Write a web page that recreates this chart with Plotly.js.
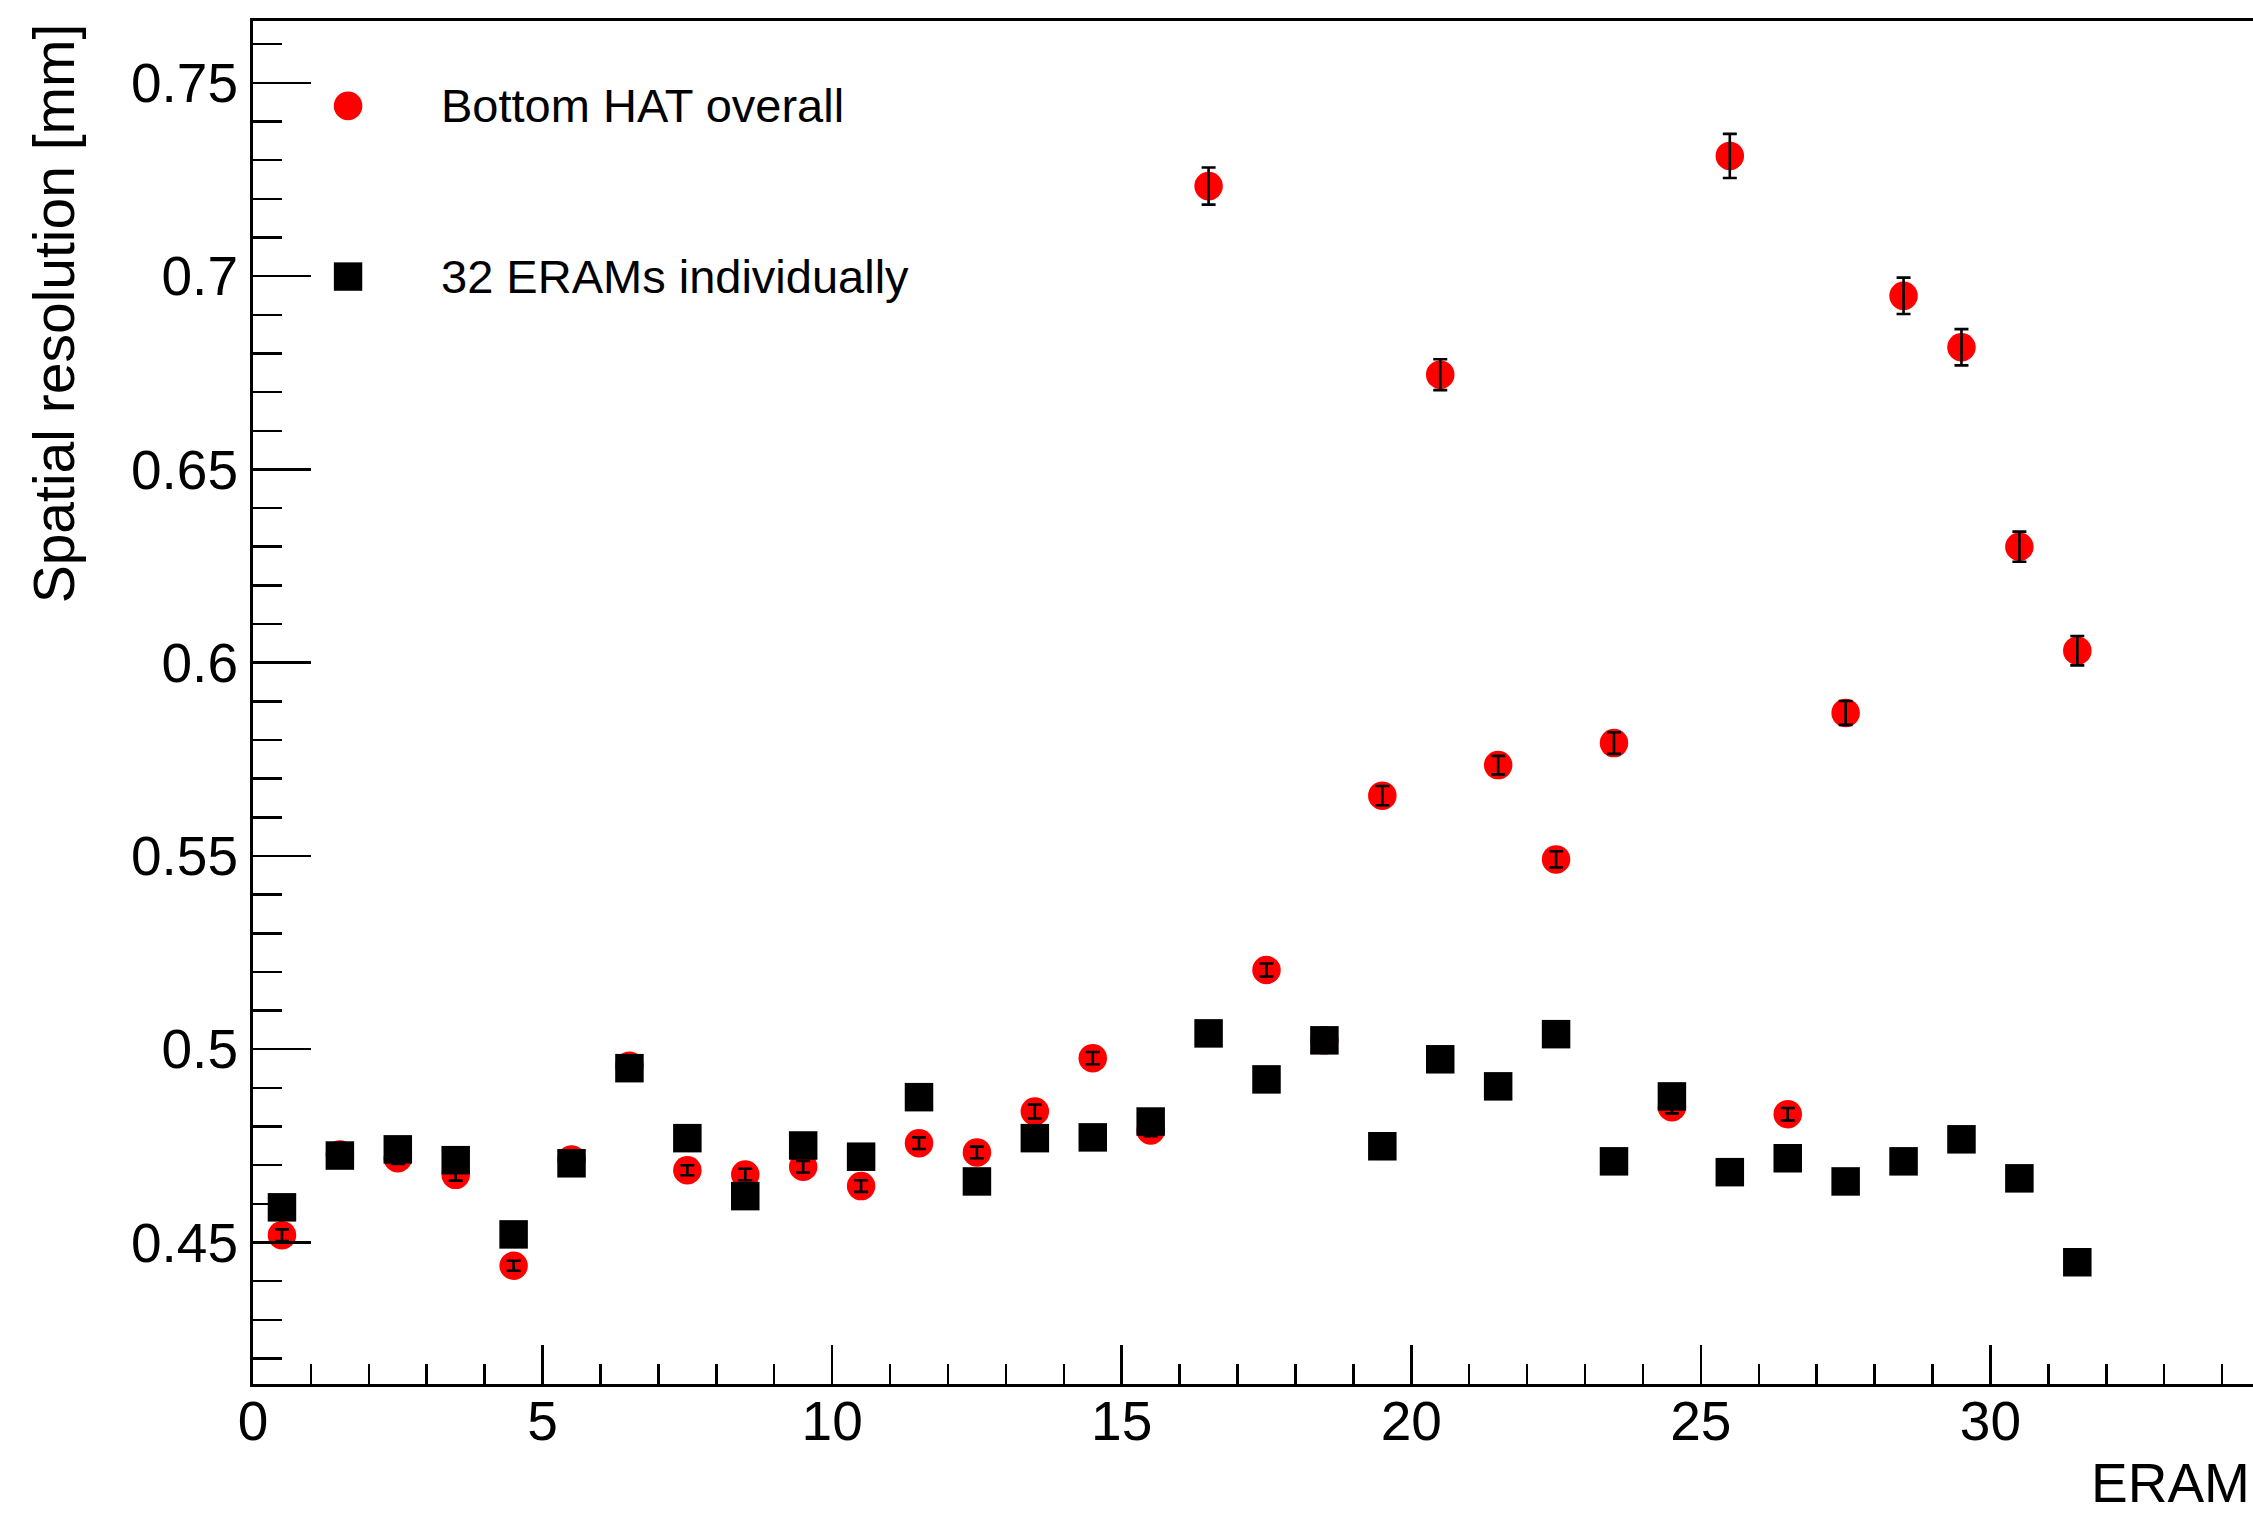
<!DOCTYPE html>
<html>
<head>
<meta charset="utf-8">
<script src="https://cdn.plot.ly/plotly-3.0.1.min.js"></script>
<style>
  html, body { margin: 0; padding: 0; background: #ffffff; overflow: hidden; }
  #wrap { width: 2253px; height: 1514px; overflow: hidden; position: relative; }
  #chart { width: 2300px; height: 1514px; }
</style>
</head>
<body>
<div id="wrap"><div id="chart"></div></div>
<script>
// ERAM index (bin centres)
const eramIndex = [0.5, 1.5, 2.5, 3.5, 4.5, 5.5, 6.5, 7.5, 8.5, 9.5,
                   10.5, 11.5, 12.5, 13.5, 14.5, 15.5, 16.5, 17.5, 18.5, 19.5,
                   20.5, 21.5, 22.5, 23.5, 24.5, 25.5, 26.5, 27.5, 28.5, 29.5,
                   30.5, 31.5];

// Bottom HAT overall (red circles) with errors
const hatOverall = [0.4519, 0.4728, 0.4718, 0.4675, 0.4440, 0.4715, 0.4957, 0.4687, 0.4676, 0.4696,
                    0.4646, 0.4757, 0.4733, 0.4839, 0.4977, 0.4790, 0.7233, 0.5205, 0.5023, 0.5656,
                    0.6745, 0.5735, 0.5491, 0.5792, 0.4850, 0.7311, 0.4832, 0.5870, 0.6949, 0.6816,
                    0.6300, 0.6031];
const hatOverallErr = [0.0015, 0.0015, 0.0015, 0.0015, 0.0013, 0.0015, 0.0015, 0.0013, 0.0015, 0.0015,
                       0.0015, 0.0015, 0.0015, 0.0018, 0.0016, 0.0015, 0.0048, 0.0017, 0.0015, 0.0025,
                       0.0040, 0.0024, 0.0021, 0.0028, 0.0016, 0.0057, 0.0016, 0.0031, 0.0047, 0.0047,
                       0.0039, 0.0038];

// 32 ERAMs individually (black squares)
const eramIndividual = [0.4591, 0.4725, 0.4741, 0.4713, 0.4521, 0.4705, 0.4951, 0.4770, 0.4620, 0.4751,
                        0.4722, 0.4876, 0.4658, 0.4770, 0.4772, 0.4813, 0.5041, 0.4922, 0.5023, 0.4749,
                        0.4974, 0.4904, 0.5039, 0.4710, 0.4878, 0.4682, 0.4718, 0.4658, 0.4710, 0.4767,
                        0.4666, 0.4449];

const legendLabels = ["Bottom HAT overall", "32 ERAMs individually"];
const xTitle = "ERAM";
const yTitle = "Spatial resolution [mm]";

const FONT = "'Liberation Sans', Arial, Helvetica, sans-serif";
const RED = "#ff0000";

const traces = [
  { // red markers
    x: eramIndex, y: hatOverall, type: 'scatter', mode: 'markers',
    marker: { symbol: 'circle', size: 28.5, color: RED, line: { width: 0 } },
    showlegend: false, hoverinfo: 'x+y'
  },
  { // error bars of red series, drawn above markers
    x: eramIndex, y: hatOverall, type: 'scatter', mode: 'markers',
    marker: { size: 1, color: 'rgba(0,0,0,0)' },
    error_y: { type: 'data', array: hatOverallErr, visible: true, color: '#000000', thickness: 2.6, width: 7 },
    showlegend: false, hoverinfo: 'skip'
  },
  { // black squares
    x: eramIndex, y: eramIndividual, type: 'scatter', mode: 'markers',
    marker: { symbol: 'square', size: 28.5, color: '#000000', line: { width: 0 } },
    showlegend: false, hoverinfo: 'x+y'
  }
];

const legX = 0.0469;
const legY1 = 0.9377, legY2 = 0.8125;

const layout = {
  width: 2300, height: 1514,
  margin: { l: 253, r: 20, t: 21, b: 130, pad: 0 },
  paper_bgcolor: '#ffffff', plot_bgcolor: '#ffffff',
  font: { family: FONT, color: '#000000' },
  showlegend: false,
  xaxis: {
    range: [0, 35], showgrid: false, zeroline: false,
    showline: true, linecolor: '#000000', linewidth: 3, mirror: true,
    ticks: 'inside', ticklen: 39, tickwidth: 2.5, tickcolor: '#000000',
    tick0: 0, dtick: 5,
    minor: { dtick: 1, ticks: 'inside', ticklen: 20, tickwidth: 2.5, tickcolor: '#000000', showgrid: false },
    tickfont: { family: FONT, size: 55, color: '#000000' },
    ticklabelstandoff: -13
  },
  yaxis: {
    range: [0.4134, 0.7660], showgrid: false, zeroline: false,
    showline: true, linecolor: '#000000', linewidth: 3, mirror: true,
    ticks: 'inside', ticklen: 58, tickwidth: 2.5, tickcolor: '#000000',
    tick0: 0, dtick: 0.05,
    minor: { dtick: 0.01, ticks: 'inside', ticklen: 29, tickwidth: 2.5, tickcolor: '#000000', showgrid: false },
    tickfont: { family: FONT, size: 55, color: '#000000' },
    ticklabelstandoff: 1
  },
  annotations: [
    { text: yTitle, xref: 'paper', yref: 'paper', x: -0.0980, y: 1.0,
      xanchor: 'center', yanchor: 'top', textangle: -90, showarrow: false,
      font: { family: FONT, size: 57, color: '#000000' } },
    { text: xTitle, xref: 'paper', yref: 'paper', x: 0.9058, y: -0.0730,
      xanchor: 'left', yanchor: 'middle', showarrow: false,
      font: { family: FONT, size: 55, color: '#000000' } },
    { text: legendLabels[0], xref: 'paper', yref: 'paper', x: 0.0918, y: legY1,
      xanchor: 'left', yanchor: 'middle', showarrow: false,
      font: { family: FONT, size: 47, color: '#000000' } },
    { text: legendLabels[1], xref: 'paper', yref: 'paper', x: 0.0918, y: legY2,
      xanchor: 'left', yanchor: 'middle', showarrow: false,
      font: { family: FONT, size: 47, color: '#000000' } }
  ],
  shapes: [
    { type: 'circle', xref: 'paper', yref: 'paper', xsizemode: 'pixel', ysizemode: 'pixel',
      xanchor: legX, yanchor: legY1, x0: -14.3, x1: 14.3, y0: -14.3, y1: 14.3,
      fillcolor: RED, line: { width: 0 } },
    { type: 'rect', xref: 'paper', yref: 'paper', xsizemode: 'pixel', ysizemode: 'pixel',
      xanchor: legX, yanchor: legY2, x0: -14.2, x1: 14.2, y0: -14.2, y1: 14.2,
      fillcolor: '#000000', line: { width: 0 } }
  ]
};

Plotly.newPlot('chart', traces, layout, { displayModeBar: false, staticPlot: true });
</script>
</body>
</html>
